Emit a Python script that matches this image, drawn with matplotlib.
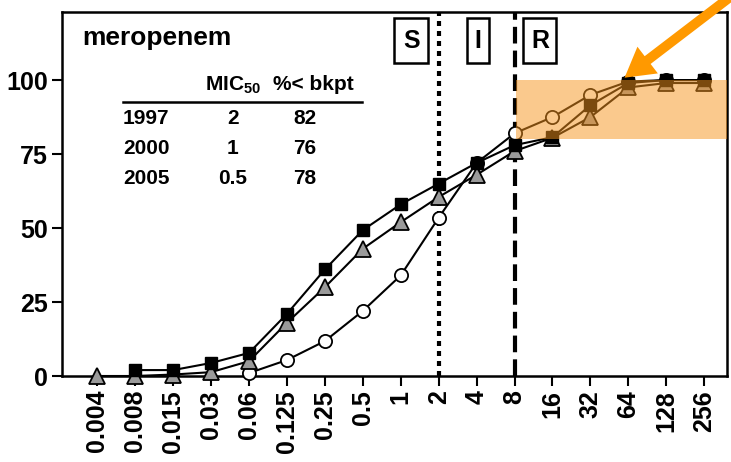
import numpy as np
import matplotlib
matplotlib.use("Agg")
import matplotlib.pyplot as plt
from matplotlib.patches import Rectangle
from matplotlib.transforms import blended_transform_factory

plt.rcParams['font.family'] = ['Liberation Sans', 'DejaVu Sans']
plt.rcParams['font.weight'] = 'bold'
plt.rcParams['mathtext.fontset'] = 'custom'
plt.rcParams['mathtext.rm'] = 'Liberation Sans:bold'
plt.rcParams['mathtext.bf'] = 'Liberation Sans:bold'

nan = np.nan
mic_labels = ['0.004', '0.008', '0.015', '0.03', '0.06', '0.125', '0.25', '0.5',
              '1', '2', '4', '8', '16', '32', '64', '128', '256']

# cumulative % of isolates inhibited at each MIC
pct_1997 = [nan, nan, nan, nan, 1, 5.4, 11.8, 22, 34, 53.5, 72, 82, 87.5, 95, 99.5, 100, 100]
pct_2000 = [0, 0, 0.5, 1.3, 5, 18, 30, 43, 52, 60.5, 68, 76, 80.5, 87.5, 97.5, 99, 99]
pct_2005 = [nan, 2, 2, 4.4, 7.8, 21, 36, 49.3, 58, 65, 72, 78, 80.7, 91.5, 99, 100, 100]

table_years = ['1997', '2000', '2005']
table_mic50 = ['2', '1', '0.5']
table_bkpt = ['82', '76', '78']

bkpt_S = '2'
bkpt_R = '8'

W, H = 731, 462
fig = plt.figure(figsize=(W / 100, H / 100), dpi=100)
ax = fig.add_axes([62 / W, 1 - 376 / H, (727 - 62) / W, (376 - 12) / H])

x = np.arange(len(mic_labels))
ax.plot(x, pct_1997, '-o', color='black', lw=1.5, ms=9.5, mfc='white', mec='black',
        mew=1.3, zorder=3, clip_on=False)
ax.plot(x, pct_2000, '-^', color='black', lw=1.5, ms=11, mfc='#9a9a9a', mec='black',
        mew=1.3, zorder=4, clip_on=False)
ax.plot(x, pct_2005, '-s', color='black', lw=1.5, ms=8.5, mfc='black', mec='black',
        zorder=5, clip_on=False)

xs = mic_labels.index(bkpt_S)
xr = mic_labels.index(bkpt_R)
ax.axvline(xs, color='black', lw=3, ls=(0, (1.2, 1.2)), zorder=2)
ax.axvline(xr, color='black', lw=3, ls=(0, (4, 1.7)), zorder=2)

ax.set_xlim(-0.93, 16.6)
ax.set_ylim(0, 123)

# resistant zone above 80%
ax.fill_between([xr + 0.05, 16.6], 80, 100, color='#f7941d', alpha=0.5, lw=0, zorder=6)

ax.set_xticks(x)
ax.set_xticklabels(mic_labels, rotation=90, fontsize=18, fontweight='bold')
ax.set_yticks([0, 25, 50, 75, 100])
ax.set_yticklabels(['0', '25', '50', '75', '100'], fontsize=18, fontweight='bold')
ax.tick_params(direction='out', length=7, width=1.5, pad=3)
for s in ax.spines.values():
    s.set_linewidth(1.8)

# S / I / R boxes
trans = blended_transform_factory(ax.transData, ax.transAxes)
for lab, xc, wd in [('S', 8.28, 0.9), ('I', 10.03, 0.58), ('R', 11.67, 0.87)]:
    ax.add_patch(Rectangle((xc - wd / 2, 0.86), wd, 0.123, transform=trans,
                           fill=False, lw=1.8, ec='black', clip_on=False, zorder=7))
    ax.text(xc, 0.921, lab, transform=trans, ha='center', va='center',
            fontsize=18, fontweight='bold', zorder=8)


def px(a, b):
    return a / W, 1 - b / H


fig.text(*px(82, 38), 'meropenem', fontsize=19, fontweight='bold', va='center')
fig.text(*px(205, 85), r'MIC$_{50}$', fontsize=15, fontweight='bold', va='center')
fig.text(*px(273, 85), '%< bkpt', fontsize=15, fontweight='bold', va='center')
fig.add_artist(plt.Line2D([123 / W, 362 / W], [1 - 102 / H, 1 - 102 / H], color='black', lw=1.8))
for i in range(len(table_years)):
    yy = 118 + 30 * i
    fig.text(*px(123, yy), table_years[i], fontsize=15, fontweight='bold', va='center')
    fig.text(*px(233, yy), table_mic50[i], fontsize=15, fontweight='bold', va='center', ha='center')
    fig.text(*px(305, yy), table_bkpt[i], fontsize=15, fontweight='bold', va='center', ha='center')

# arrow pointing at the 64 mg/L point
ax.annotate('', xy=(13.9, 100.8), xycoords='data', xytext=(1.01, 1.02), textcoords='figure fraction',
            arrowprops=dict(arrowstyle='simple,head_length=0.95,head_width=1.1,tail_width=0.32',
                            mutation_scale=22, color='#ff9900', lw=0, shrinkA=0, shrinkB=0),
            annotation_clip=False, zorder=10)

fig.savefig('out.png', dpi=100)
